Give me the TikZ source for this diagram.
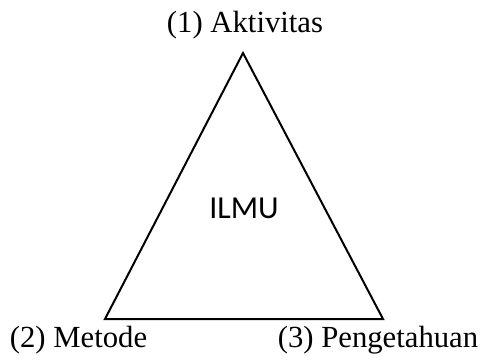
\documentclass[tikz,border=0pt]{standalone}
\usepackage{fontspec}
\setmainfont{Liberation Serif}
\newfontfamily\ilmufont{Carlito}
\begin{document}
\begin{tikzpicture}[x=1pt,y=-1pt,
  lbl/.style={anchor=base,inner sep=0pt,font=\fontsize{30.7}{36}\selectfont},
  mid/.style={inner sep=0pt,font=\ilmufont\fontsize{32}{38}\selectfont}]
\useasboundingbox (0,0) rectangle (484,363);
\coordinate (top) at (243,53);
\coordinate (bl) at (105,319);
\coordinate (br) at (383,319);
\draw[line width=2pt,line join=miter] (top) -- (bl) -- (br) -- cycle;
\node[lbl] (a) at (245,33) {(1) Aktivitas};
\node[lbl] (m) at (78.5,347) {(2) Metode};
\node[lbl] (p) at (378,347) {(3) Pengetahuan};
\node[mid] (ilmu) at (244,208.5) {ILMU};
\end{tikzpicture}
\end{document}
